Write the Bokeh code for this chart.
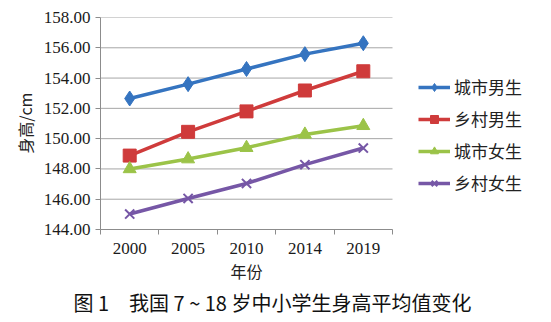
from bokeh.plotting import figure
from bokeh.models import (Range1d, FixedTicker, NumeralTickFormatter, Legend, LegendItem,
                          LinearAxis, Title, ColumnDataSource)
from bokeh.embed import file_html
from bokeh.resources import INLINE

years = ["2000", "2005", "2010", "2014", "2019"]
urban_boys = [152.65, 153.60, 154.60, 155.58, 156.30]
rural_boys = [148.88, 150.45, 151.80, 153.18, 154.45]
urban_girls = [148.00, 148.65, 149.40, 150.28, 150.85]
rural_girls = [145.02, 146.05, 147.04, 148.28, 149.38]
series_names = ["城市男生", "乡村男生", "城市女生", "乡村女生"]
y_ticks = [144, 146, 148, 150, 152, 154, 156, 158]
x_title = "年份"
y_title = "身高/cm"
caption = "图 1　我国 7 ~ 18 岁中小学生身高平均值变化"

n = len(years)
xs = [i + 0.5 for i in range(n)]
boundaries = list(range(n + 1))

W, H = 551, 322
LEFT, PLOT_W = 100, 292          # pixel extent of the axes area
x_end = n * (W - LEFT) / PLOT_W  # frame extends right to hold the legend

p = figure(width=W, height=H, output_backend="svg", toolbar_location=None,
           x_range=Range1d(0, x_end), y_range=Range1d(min(y_ticks), max(y_ticks)),
           x_axis_type=None, y_axis_type=None,
           min_border_left=LEFT, min_border_right=0, min_border_top=17, min_border_bottom=93)
p.outline_line_color = None
p.background_fill_color = "white"
p.border_fill_color = "white"
p.grid.grid_line_color = None

# horizontal grid lines restricted to the axes area
p.segment(x0=[0] * len(y_ticks), x1=[n] * len(y_ticks), y0=y_ticks, y1=y_ticks,
          line_color="#a6a6a6", line_width=1, level="underlay")

# Y axis
yax = LinearAxis(ticker=FixedTicker(ticks=y_ticks), formatter=NumeralTickFormatter(format="0.00"))
yax.axis_label = y_title
yax.axis_label_text_font = "Noto Sans CJK SC"
yax.axis_label_text_font_style = "normal"
yax.axis_label_text_font_size = "16px"
yax.axis_label_text_color = "#222222"
yax.axis_label_standoff = 4
yax.major_label_text_font = "Liberation Serif"
yax.major_label_text_font_size = "17px"
yax.major_label_text_color = "#1a1a1a"
yax.major_label_standoff = 5
yax.axis_line_color = "#8c8c8c"
yax.major_tick_line_color = "#8c8c8c"
yax.major_tick_out = 5
yax.major_tick_in = 0
yax.minor_tick_line_color = None
p.add_layout(yax, "left")

# X axis: labels at category centres, ticks at category boundaries
xax = LinearAxis(ticker=FixedTicker(ticks=xs, minor_ticks=boundaries), bounds=(0, n))
xax.major_label_overrides = {x: y for x, y in zip(xs, years)}
xax.major_label_text_font = "Liberation Serif"
xax.major_label_text_font_size = "17px"
xax.major_label_text_color = "#1a1a1a"
xax.major_label_standoff = 7
xax.axis_line_color = "#8c8c8c"
xax.major_tick_line_color = None
xax.minor_tick_line_color = "#8c8c8c"
xax.minor_tick_out = 5
xax.minor_tick_in = 0
p.add_layout(xax, "below")

# x-axis title, centred under the axes area
xt = Title(text=x_title, align="left", offset=PLOT_W / 2 - 16, text_font="Noto Sans CJK SC",
           text_font_style="normal", text_font_size="16px", text_color="#222222", standoff=0)
p.add_layout(xt, "below")

colors = ["#3574C0", "#CF3B3B", "#9BC348", "#7657A6"]
data = [urban_boys, rural_boys, urban_girls, rural_girls]
items = []
for name, vals, c, k in zip(series_names, data, colors, range(4)):
    src = ColumnDataSource(dict(x=xs, y=vals))
    ln = p.line("x", "y", source=src, line_color=c, line_width=3.5)
    if k == 0:
        mk = p.scatter("x", "y", source=src, marker="diamond", size=15, fill_color=c, line_color=c)
    elif k == 1:
        mk = p.scatter("x", "y", source=src, marker="square", size=13, fill_color=c, line_color=c)
    elif k == 2:
        mk = p.scatter("x", "y", source=src, marker="triangle", size=13, fill_color=c, line_color=c)
    else:
        mk = p.scatter("x", "y", source=src, marker="x", size=13, line_color=c, line_width=2)
    items.append(LegendItem(label=name, renderers=[ln, mk]))

legend = Legend(items=items, location=(318, 34), orientation="vertical")
legend.label_text_font = "Noto Sans CJK SC"
legend.label_text_font_size = "17px"
legend.label_text_color = "#222222"
legend.glyph_width = 32
legend.glyph_height = 20
legend.label_height = 20
legend.spacing = 7
legend.padding = 0
legend.margin = 0
legend.label_standoff = 4
legend.border_line_color = None
legend.background_fill_alpha = 0
p.add_layout(legend, "center")

title = Title(text=caption, align="left", offset=-27, text_font="Noto Sans CJK SC",
              text_font_style="normal", text_font_size="20px", text_color="#111111",
              standoff=6)
p.add_layout(title, "below")

open("out.html", "w").write(file_html(p, INLINE))
